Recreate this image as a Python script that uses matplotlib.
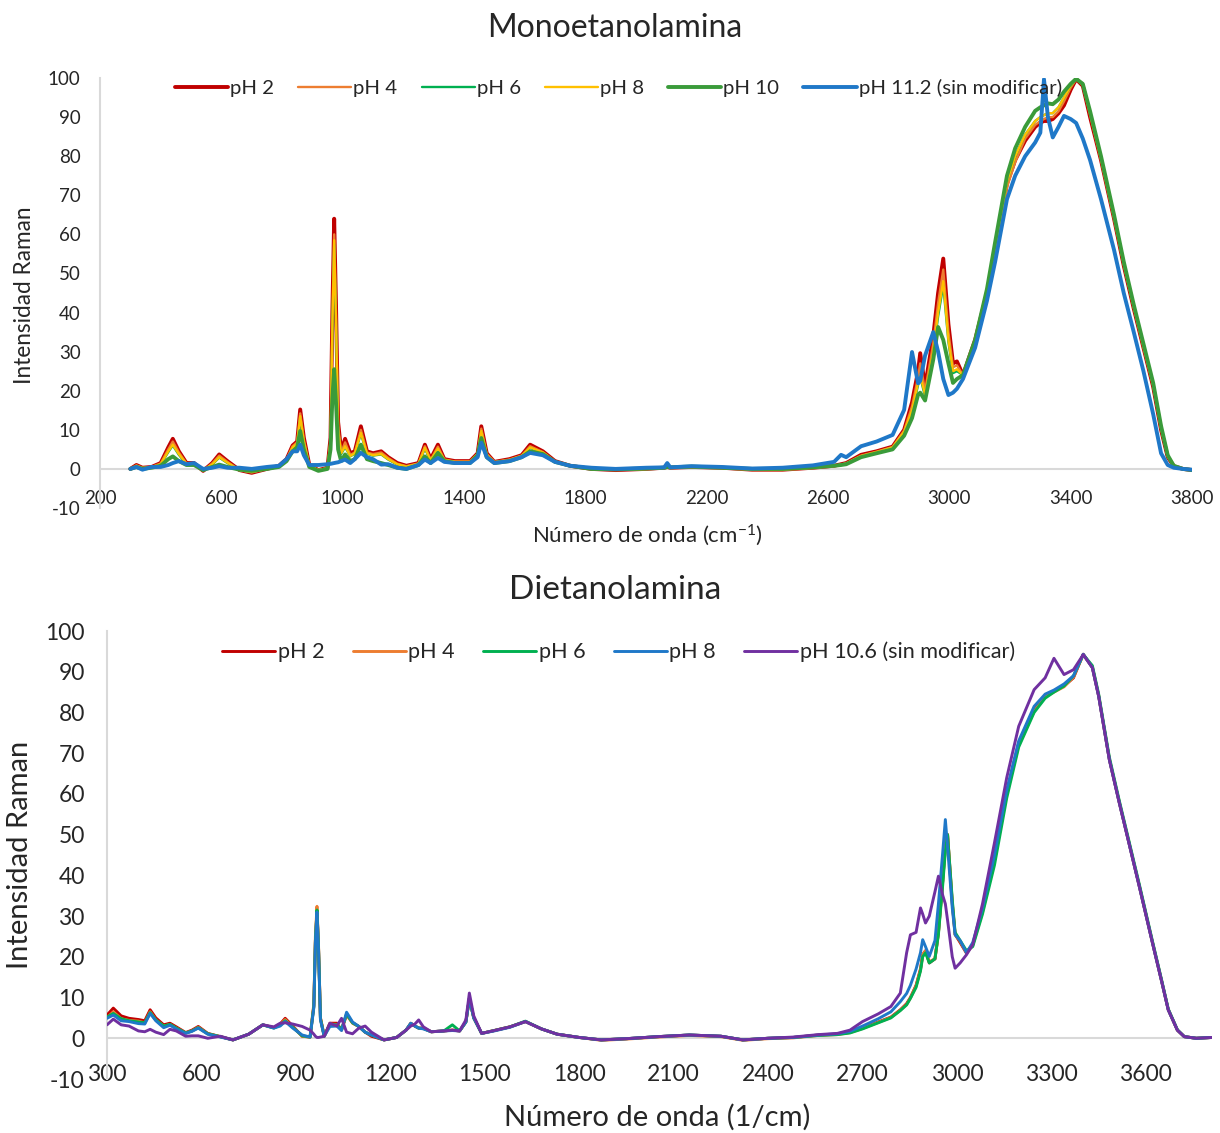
import matplotlib
matplotlib.use("Agg")
import matplotlib.pyplot as plt

plt.rcParams["font.family"] = ["Lato", "DejaVu Sans"]
plt.rcParams["mathtext.fontset"] = "custom"
plt.rcParams["mathtext.rm"] = "Lato"
plt.rcParams["mathtext.it"] = "Lato:italic"
plt.rcParams["mathtext.bf"] = "Lato:bold"
plt.rcParams["axes.unicode_minus"] = False

# ---------------- Monoetanolamina (MEA) ----------------
wn_mea = [
    300, 320, 340, 370, 400, 425, 440, 460, 485, 510,
    540, 570, 593, 620, 660, 700, 750, 790, 815, 835,
    850, 860, 872, 890, 920, 950, 960, 966, 972, 978,
    985, 995, 1008, 1025, 1040, 1060, 1080, 1100, 1127, 1150,
    1180, 1210, 1250, 1271, 1290, 1314, 1335, 1370, 1420, 1445,
    1457, 1475, 1500, 1550, 1590, 1618, 1660, 1700, 1750, 1820,
    1900, 2000, 2060, 2070, 2080, 2150, 2250, 2350, 2450, 2550,
    2620, 2643, 2660, 2709, 2760, 2813, 2851, 2877, 2897, 2904,
    2920, 2947, 2963, 2980, 2997, 3012, 3025, 3045, 3085, 3124,
    3151, 3190, 3217, 3250, 3283, 3300, 3312, 3325, 3341, 3360,
    3378, 3400, 3418, 3440, 3464, 3500, 3543, 3575, 3608, 3640,
    3672, 3698, 3720, 3740, 3770, 3800,
]
mea_ph2 = [
    0.0, 1.0, 0.3, 0.5, 1.5, 5.5, 7.7, 4.5, 1.5, 1.5,
    -0.5, 1.5, 3.7, 2.0, -0.3, -1.0, 0.0, 0.8, 2.5, 6.0,
    7.0, 15.2, 8.0, 1.0, -0.3, 0.3, 8.0, 40.0, 64.0, 42.0,
    12.0, 4.5, 7.7, 4.0, 4.5, 10.9, 4.5, 4.0, 4.5, 3.0,
    1.5, 0.8, 1.5, 6.2, 2.5, 6.2, 2.5, 2.0, 2.0, 4.0,
    10.9, 4.0, 1.8, 2.5, 3.5, 6.2, 4.5, 2.0, 0.8, 0.0,
    -0.3, 0.0, 0.3, 0.5, 0.3, 0.5, 0.3, -0.2, -0.2, 0.3,
    0.8, 1.2, 1.5, 3.6, 4.5, 5.7, 10.0, 17.0, 25.0, 29.6,
    21.0, 34.0, 45.0, 53.8, 37.0, 27.0, 27.5, 24.0, 33.0, 45.0,
    56.0, 73.0, 79.0, 84.0, 87.5, 88.6, 89.0, 89.0, 89.5, 91.0,
    93.0, 97.0, 99.7, 98.0, 90.0, 79.0, 64.0, 52.0, 41.0, 31.0,
    21.0, 10.0, 3.0, 0.7, 0.0, -0.3,
]
mea_ph4 = [
    0.0, 0.9, 0.3, 0.5, 1.4, 5.0, 7.0, 4.2, 1.4, 1.4,
    -0.5, 1.4, 3.4, 1.8, -0.3, -0.9, 0.0, 0.8, 2.4, 5.8,
    6.8, 14.2, 7.5, 0.9, -0.3, 0.2, 7.5, 38.0, 60.0, 40.0,
    11.0, 4.2, 6.8, 3.6, 4.2, 10.0, 4.2, 3.8, 4.2, 2.8,
    1.3, 0.7, 1.4, 5.8, 2.3, 5.7, 2.4, 1.9, 1.9, 3.9,
    10.3, 3.8, 1.8, 2.4, 3.4, 5.8, 4.3, 1.9, 0.8, -0.1,
    -0.3, -0.1, 0.2, 0.4, 0.2, 0.4, 0.2, -0.3, -0.3, 0.2,
    0.7, 1.1, 1.4, 3.4, 4.4, 5.6, 9.8, 16.0, 23.5, 27.0,
    20.0, 32.0, 42.5, 51.0, 35.0, 26.0, 26.5, 24.0, 32.5, 44.5,
    55.0, 72.0, 78.5, 84.5, 88.0, 89.0, 89.5, 90.0, 90.0, 91.5,
    94.0, 97.5, 99.7, 98.2, 90.5, 79.0, 64.0, 52.2, 41.2, 31.0,
    21.2, 10.2, 3.1, 0.7, 0.0, -0.3,
]
mea_ph6 = [
    0.0, 0.7, 0.2, 0.4, 1.1, 4.3, 6.0, 3.6, 1.2, 1.2,
    -0.4, 1.1, 2.9, 1.5, -0.3, -0.8, 0.0, 0.7, 2.2, 5.3,
    6.3, 13.0, 6.8, 0.8, -0.3, 0.2, 6.8, 35.0, 57.5, 37.0,
    9.5, 3.8, 5.6, 3.2, 3.9, 9.0, 3.9, 3.4, 3.7, 2.4,
    1.1, 0.5, 1.2, 5.2, 2.1, 5.0, 2.2, 1.7, 1.7, 3.7,
    9.5, 3.5, 1.6, 2.2, 3.2, 5.4, 4.1, 1.8, 0.8, 0.0,
    -0.2, 0.0, 0.3, 0.5, 0.3, 0.5, 0.3, -0.1, -0.1, 0.3,
    0.8, 1.1, 1.4, 3.2, 4.2, 5.4, 9.3, 14.5, 21.5, 23.5,
    18.5, 29.5, 39.0, 47.0, 32.5, 24.5, 25.0, 24.0, 32.5, 45.0,
    56.5, 73.5, 80.0, 85.5, 89.0, 90.0, 90.5, 91.0, 91.0, 92.5,
    95.0, 98.0, 99.8, 98.5, 91.0, 79.5, 64.5, 52.5, 41.5, 31.5,
    21.5, 10.5, 3.2, 0.7, 0.0, -0.3,
]
mea_ph8 = [
    0.0, 0.8, 0.2, 0.4, 1.2, 4.5, 6.2, 3.8, 1.3, 1.3,
    -0.4, 1.2, 3.0, 1.6, -0.3, -0.8, 0.0, 0.7, 2.3, 5.5,
    6.5, 13.5, 7.0, 0.8, -0.3, 0.2, 7.0, 36.0, 58.5, 38.0,
    10.0, 4.0, 5.8, 3.3, 4.0, 9.2, 4.0, 3.5, 3.8, 2.5,
    1.2, 0.6, 1.3, 5.4, 2.2, 5.2, 2.3, 1.8, 1.8, 3.8,
    9.7, 3.6, 1.7, 2.3, 3.3, 5.5, 4.2, 1.9, 0.8, 0.0,
    -0.2, 0.0, 0.3, 0.5, 0.3, 0.5, 0.3, -0.1, -0.1, 0.3,
    0.8, 1.1, 1.4, 3.3, 4.3, 5.5, 9.5, 15.0, 22.0, 24.0,
    19.0, 30.0, 40.0, 48.0, 33.0, 25.0, 25.5, 24.0, 32.5, 45.0,
    56.5, 73.5, 80.0, 85.5, 89.0, 90.0, 90.5, 91.0, 91.0, 92.5,
    95.0, 98.0, 99.8, 98.5, 91.0, 79.5, 64.5, 52.5, 41.5, 31.5,
    21.5, 10.5, 3.2, 0.7, 0.0, -0.3,
]
mea_ph10 = [
    0.0, 0.5, 0.0, 0.3, 0.8, 2.5, 3.2, 2.0, 1.0, 1.0,
    -0.3, 0.5, 1.1, 0.5, -0.2, -0.5, 0.0, 0.5, 2.0, 4.5,
    5.5, 9.7, 5.0, 0.5, -0.5, 0.0, 5.0, 18.0, 25.5, 17.0,
    5.0, 2.0, 3.7, 2.0, 2.5, 6.2, 2.5, 2.0, 1.5, 1.0,
    0.3, 0.0, 1.0, 3.2, 1.5, 4.1, 2.0, 1.5, 1.5, 3.5,
    7.9, 3.0, 1.5, 2.0, 3.0, 4.5, 3.8, 1.8, 0.8, 0.0,
    -0.1, 0.1, 0.3, 0.5, 0.4, 0.6, 0.3, 0.0, 0.0, 0.4,
    0.8, 1.0, 1.2, 3.0, 4.0, 5.0, 8.5, 13.0, 19.0, 19.5,
    17.5, 28.0, 36.3, 33.0, 27.0, 22.0, 23.0, 24.0, 33.0, 46.0,
    58.0, 75.0, 82.0, 87.5, 91.6, 92.5, 93.0, 93.5, 93.3, 94.5,
    96.5, 98.5, 99.8, 98.5, 91.5, 80.0, 65.0, 53.0, 42.0, 32.0,
    22.0, 11.0, 3.5, 0.8, 0.0, -0.3,
]
mea_ph112 = [
    0.0, 0.5, -0.2, 0.5, 0.5, 1.0, 1.5, 2.0, 1.2, 1.5,
    0.0, 0.3, 0.7, 0.3, 0.3, 0.0, 0.5, 0.8, 2.5, 4.5,
    4.5, 6.2, 3.5, 1.0, 1.0, 1.2, 1.3, 1.4, 1.5, 1.6,
    1.7, 2.0, 2.4, 1.5, 2.5, 4.1, 3.0, 2.5, 1.1, 1.2,
    0.3, 0.0, 1.0, 2.4, 1.5, 2.8, 1.8, 1.5, 1.5, 3.0,
    6.7, 3.0, 1.5, 2.0, 3.0, 4.1, 3.5, 1.8, 0.8, 0.3,
    0.0, 0.3, 0.4, 1.5, 0.4, 0.7, 0.5, 0.1, 0.3, 0.9,
    1.8, 3.6, 3.0, 5.8, 7.0, 8.7, 15.1, 29.9, 21.9, 22.5,
    29.0, 35.0, 30.0, 23.0, 18.9, 19.5, 20.5, 23.0, 31.0, 43.0,
    53.0, 69.0, 75.0, 80.0, 83.5, 86.0, 99.7, 90.0, 84.8, 87.5,
    90.3, 89.5, 88.5, 84.5, 79.0, 69.0, 56.0, 45.0, 35.0, 25.0,
    14.0, 4.0, 1.0, 0.3, 0.0, -0.2,
]
mea_labels = ["pH 2", "pH 4", "pH 6", "pH 8", "pH 10", "pH 11.2 (sin modificar)"]
mea_colors = ["#C00000", "#ED7D31", "#00B050", "#FFC000", "#3A9B3A", "#1F78C8"]
mea_widths = [2.8, 1.7, 1.7, 1.7, 2.8, 2.8]

# ---------------- Dietanolamina (DEA) ----------------
wn_dea = [
    300, 320, 345, 370, 400, 420, 437, 455, 480, 500,
    520, 550, 570, 590, 620, 660, 700, 750, 795, 830,
    850, 866, 890, 920, 945, 957, 962, 967, 972, 978,
    990, 1008, 1030, 1045, 1061, 1080, 1100, 1120, 1140, 1180,
    1220, 1250, 1265, 1278, 1290, 1305, 1330, 1370, 1397, 1420,
    1440, 1451, 1465, 1490, 1530, 1580, 1629, 1680, 1730, 1800,
    1870, 1950, 2050, 2150, 2250, 2320, 2400, 2480, 2560, 2620,
    2660, 2700, 2750, 2790, 2820, 2840, 2852, 2870, 2884, 2891,
    2900, 2912, 2930, 2941, 2955, 2963, 2970, 2985, 2994, 3010,
    3030, 3050, 3081, 3119, 3158, 3196, 3245, 3280, 3308, 3340,
    3370, 3401, 3430, 3450, 3484, 3515, 3546, 3580, 3621, 3650,
    3671, 3700, 3722, 3760, 3810,
]
dea_ph2 = [
    5.7, 7.4, 5.5, 4.9, 4.6, 4.3, 7.0, 5.0, 3.3, 3.7,
    2.8, 1.4, 2.0, 2.9, 1.2, 0.4, -0.4, 1.0, 3.3, 2.6,
    3.5, 4.9, 3.0, 0.5, 0.3, 8.0, 24.0, 31.5, 22.0, 5.0,
    0.5, 3.7, 3.7, 2.0, 5.8, 3.8, 2.9, 1.5, 0.5, -0.4,
    0.2, 2.0, 3.7, 3.0, 2.5, 2.5, 1.6, 1.8, 2.0, 1.8,
    4.0, 9.8, 5.0, 1.2, 1.9, 2.8, 4.1, 2.3, 1.0, 0.2,
    -0.4, -0.1, 0.4, 0.8, 0.5, -0.4, 0.0, 0.2, 0.8, 1.0,
    1.5, 2.5, 4.0, 5.2, 7.0, 8.5, 10.0, 13.0, 17.0, 20.5,
    21.5, 18.5, 19.5, 26.0, 39.0, 47.0, 50.0, 33.0, 25.5, 23.5,
    20.9, 23.0, 31.6, 43.9, 60.2, 72.5, 80.7, 84.0, 85.2, 86.5,
    88.5, 94.3, 91.0, 84.0, 68.4, 58.0, 48.0, 37.0, 23.4, 14.0,
    7.0, 2.0, 0.4, 0.0, 0.2,
]
dea_ph4 = [
    5.0, 6.5, 4.8, 4.4, 4.2, 3.8, 6.5, 4.5, 3.0, 3.4,
    2.5, 1.3, 1.8, 2.7, 1.1, 0.4, -0.4, 1.0, 3.3, 2.6,
    3.3, 4.6, 2.8, 0.5, 0.3, 8.5, 25.0, 32.4, 22.5, 5.0,
    0.5, 3.5, 3.4, 2.2, 5.8, 3.7, 2.9, 1.5, 0.8, -0.4,
    0.2, 2.0, 3.6, 3.0, 2.5, 2.4, 1.6, 1.8, 2.0, 1.8,
    4.0, 9.7, 5.0, 1.2, 1.9, 2.8, 4.1, 2.3, 1.0, 0.2,
    -0.5, -0.2, 0.3, 0.7, 0.4, -0.5, -0.1, 0.1, 0.7, 0.9,
    1.4, 2.4, 3.9, 5.1, 6.9, 8.3, 9.9, 12.8, 16.8, 20.5,
    21.5, 18.8, 19.5, 25.8, 39.0, 47.0, 50.0, 33.5, 25.5, 23.8,
    21.0, 22.8, 31.0, 43.5, 60.0, 72.0, 80.3, 83.8, 85.0, 86.3,
    88.7, 94.2, 91.2, 84.2, 68.6, 58.2, 48.2, 37.2, 23.6, 14.1,
    7.1, 2.0, 0.4, 0.0, 0.2,
]
dea_ph6 = [
    5.2, 6.1, 4.8, 4.3, 4.0, 3.8, 6.3, 4.5, 3.0, 3.4,
    2.5, 1.3, 1.8, 2.6, 1.1, 0.4, -0.4, 1.0, 3.3, 2.5,
    3.2, 4.3, 2.7, 0.6, 0.3, 7.8, 24.0, 31.5, 22.0, 4.8,
    0.5, 3.4, 3.3, 2.2, 6.0, 3.8, 2.9, 1.5, 0.8, -0.4,
    0.2, 2.0, 3.6, 3.0, 2.5, 2.4, 1.6, 1.8, 3.3, 1.8,
    4.0, 9.7, 5.0, 1.2, 1.9, 2.8, 4.2, 2.3, 1.0, 0.2,
    -0.4, -0.1, 0.4, 0.8, 0.5, -0.4, 0.0, 0.2, 0.7, 0.9,
    1.3, 2.3, 3.8, 5.0, 6.8, 8.2, 9.8, 12.5, 16.5, 20.0,
    21.0, 18.5, 19.5, 25.5, 38.0, 46.0, 50.0, 34.0, 26.0, 24.0,
    21.5, 22.5, 30.5, 42.5, 59.0, 71.5, 80.0, 83.5, 85.0, 86.5,
    89.0, 94.2, 91.5, 84.5, 69.0, 58.5, 48.5, 37.5, 23.8, 14.3,
    7.2, 2.1, 0.4, 0.0, 0.2,
]
dea_ph8 = [
    4.9, 5.7, 4.3, 4.1, 3.6, 3.5, 6.1, 4.3, 2.6, 3.2,
    2.3, 1.2, 1.7, 2.5, 1.0, 0.3, -0.4, 1.0, 3.3, 2.5,
    3.0, 4.1, 2.5, 0.8, 0.3, 7.5, 23.5, 31.0, 21.5, 4.5,
    0.5, 2.9, 3.0, 1.9, 6.4, 4.0, 2.9, 1.5, 0.8, -0.4,
    0.2, 2.0, 3.7, 3.0, 2.5, 2.3, 1.6, 1.8, 1.9, 1.8,
    4.0, 9.8, 5.0, 1.2, 1.8, 2.7, 4.1, 2.3, 1.0, 0.2,
    -0.4, -0.1, 0.4, 0.8, 0.5, -0.4, 0.0, 0.2, 0.8, 1.1,
    1.7, 3.0, 4.8, 6.5, 9.0, 11.0, 13.0, 17.0, 21.0, 24.2,
    22.5, 20.1, 24.0, 33.0, 46.0, 53.7, 47.0, 32.0, 25.4, 24.0,
    21.0, 23.5, 32.0, 45.0, 61.0, 73.0, 81.5, 84.5, 85.5, 87.0,
    89.0, 94.3, 91.0, 84.0, 68.4, 58.0, 48.0, 37.0, 23.4, 14.0,
    7.0, 2.0, 0.4, 0.0, 0.2,
]
dea_ph106 = [
    3.3, 4.7, 3.3, 3.0, 1.8, 1.6, 2.2, 1.5, 0.9, 2.2,
    1.8, 0.5, 0.6, 0.6, 0.0, 0.5, -0.4, 1.0, 3.3, 2.8,
    3.7, 3.8, 3.5, 2.9, 2.0, 1.0, 0.5, 0.2, 0.2, 0.3,
    0.5, 3.7, 3.0, 4.9, 1.5, 1.1, 2.5, 3.0, 1.5, -0.4,
    0.2, 2.0, 3.0, 3.5, 4.5, 2.8, 1.6, 1.8, 2.0, 1.8,
    4.5, 11.1, 5.5, 1.2, 1.9, 2.8, 4.1, 2.3, 1.0, 0.2,
    -0.4, -0.1, 0.4, 0.8, 0.5, -0.4, 0.0, 0.3, 0.9, 1.2,
    2.0, 4.1, 6.0, 7.8, 11.1, 21.0, 25.4, 26.0, 32.0, 30.5,
    28.3, 30.0, 36.0, 39.8, 35.0, 33.0, 29.0, 20.0, 17.2, 18.5,
    20.5, 23.0, 33.0, 48.0, 64.0, 76.6, 85.6, 88.5, 93.3, 89.3,
    90.5, 94.2, 91.0, 84.0, 68.4, 58.0, 48.0, 37.0, 23.4, 14.0,
    7.0, 2.0, 0.4, 0.0, 0.2,
]
dea_labels = ["pH 2", "pH 4", "pH 6", "pH 8", "pH 10.6 (sin modificar)"]
dea_colors = ["#C00000", "#ED7D31", "#00B050", "#1F78C8", "#7030A0"]
dea_widths = [2.1, 2.1, 2.1, 2.1, 2.1]

W, H = 1220, 1133
fig = plt.figure(figsize=(W / 100, H / 100), dpi=100)


def box(x0, y0, x1, y1):
    return [x0 / W, 1 - y1 / H, (x1 - x0) / W, (y1 - y0) / H]


GRID = "#D9D9D9"
TXT = "#262626"


def style_axes(ax, xlim, xticks, tick_fs, xpad, ypad):
    ax.set_xlim(*xlim)
    ax.set_ylim(-10, 100)
    ax.set_yticks(list(range(-10, 101, 10)))
    ax.set_xticks(xticks)
    for side in ["top", "right", "bottom"]:
        ax.spines[side].set_visible(False)
    ax.spines["left"].set_color(GRID)
    ax.spines["left"].set_linewidth(1.5)
    ax.axhline(0, color=GRID, lw=1.5, zorder=1)
    ax.tick_params(axis="both", length=0, labelsize=tick_fs, colors=TXT)
    ax.tick_params(axis="x", pad=xpad)
    ax.tick_params(axis="y", pad=ypad)
    ax.patch.set_alpha(0)


def draw(ax, wn, series, labels, colors, widths):
    lines = []
    for ys, lab, c, w in zip(series, labels, colors, widths):
        (ln,) = ax.plot(wn, ys, color=c, lw=w, label=lab, zorder=3,
                        solid_joinstyle="round", solid_capstyle="round")
        lines.append(ln)
    return lines


# top panel
ax1 = fig.add_axes(box(100, 78, 1192, 508))
style_axes(ax1, (200, 3800), list(range(200, 3801, 400)), 13.5, -13, 14)
l1 = draw(ax1, wn_mea,
          [mea_ph2, mea_ph4, mea_ph6, mea_ph8, mea_ph10, mea_ph112],
          mea_labels, mea_colors, mea_widths)
ax1.legend(l1, mea_labels, ncol=6, loc="center left",
           bbox_to_anchor=(175 / W, 1 - 88 / H), bbox_transform=fig.transFigure,
           frameon=False, fontsize=14.7, handlelength=2.6, handletextpad=0.1,
           columnspacing=1.18, borderpad=0, borderaxespad=0, labelcolor=TXT)

fig.text(615 / W, 1 - 28 / H, "Monoetanolamina", ha="center", va="center",
         fontsize=23, color=TXT)
fig.text(647 / W, 1 - 535 / H, r"Número de onda (cm$^{-1}$)", ha="center",
         va="center", fontsize=16, color=TXT)
fig.text(25 / W, 1 - 295 / H, "Intensidad Raman", ha="center", va="center",
         rotation=90, fontsize=16.3, color=TXT)

# bottom panel
ax2 = fig.add_axes(box(107, 631, 1212, 1079))
style_axes(ax2, (300, 3810), list(range(300, 3601, 300)), 16.5, -11, 16)
l2 = draw(ax2, wn_dea, [dea_ph2, dea_ph4, dea_ph6, dea_ph8, dea_ph106],
          dea_labels, dea_colors, dea_widths)
ax2.legend(l2, dea_labels, ncol=5, loc="center left",
           bbox_to_anchor=(222 / W, 1 - 652 / H), bbox_transform=fig.transFigure,
           frameon=False, fontsize=15.6, handlelength=2.45, handletextpad=0.12,
           columnspacing=1.3, borderpad=0, borderaxespad=0, labelcolor=TXT)

fig.text(615 / W, 1 - 590 / H, "Dietanolamina", ha="center", va="center",
         fontsize=24, color=TXT)
fig.text(657 / W, 1 - 1117 / H, "Número de onda (1/cm)", ha="center",
         va="center", fontsize=21, color=TXT)
fig.text(20 / W, 1 - 855 / H, "Intensidad Raman", ha="center", va="center",
         rotation=90, fontsize=21, color=TXT)

fig.savefig("out.png", dpi=100, facecolor="white")
